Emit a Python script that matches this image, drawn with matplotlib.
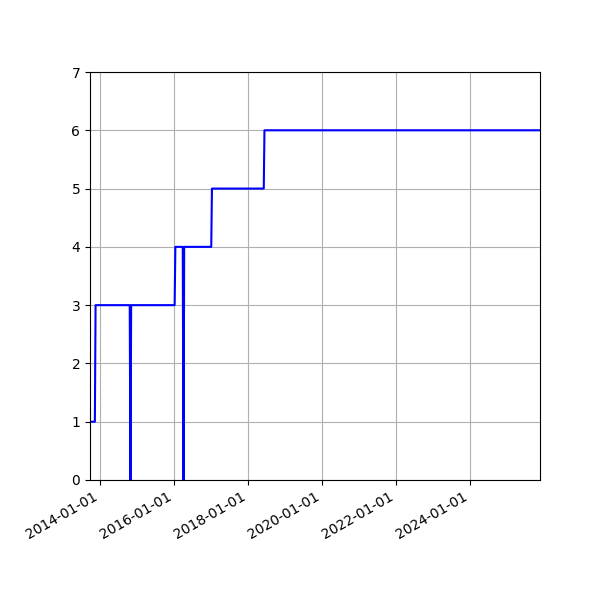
import numpy as np
import matplotlib
matplotlib.use("Agg")
import matplotlib.pyplot as plt
import matplotlib.dates as mdates

# Sampled series (weekly-ish points around each change)
dates = [
    "2013-09-25", "2013-11-12", "2013-11-19",
    "2014-10-22", "2014-10-29", "2014-11-05",
    "2016-01-08", "2016-01-15",
    "2016-03-28", "2016-04-04", "2016-04-11",
    "2017-01-03", "2017-01-10",
    "2018-06-05", "2018-06-12",
    "2025-11-20",
]
values = [1, 1, 3, 3, 0, 3, 3, 4, 4, 0, 4, 4, 5, 5, 6, 6]

x = np.array(dates, dtype="datetime64[D]")
y = np.array(values)

fig, ax = plt.subplots(figsize=(6, 6), dpi=100)
ax.plot(x, y, color="blue", linewidth=1.5)

ax.set_xlim(x[0], x[-1])
ax.set_ylim(0, 7)
ax.xaxis.set_major_locator(mdates.YearLocator(2))
ax.xaxis.set_major_formatter(mdates.DateFormatter("%Y-%m-%d"))
ax.grid(True)

fig.autofmt_xdate()
fig.subplots_adjust(left=0.15, right=0.9, top=0.88, bottom=0.2)
fig.savefig("out.png")
